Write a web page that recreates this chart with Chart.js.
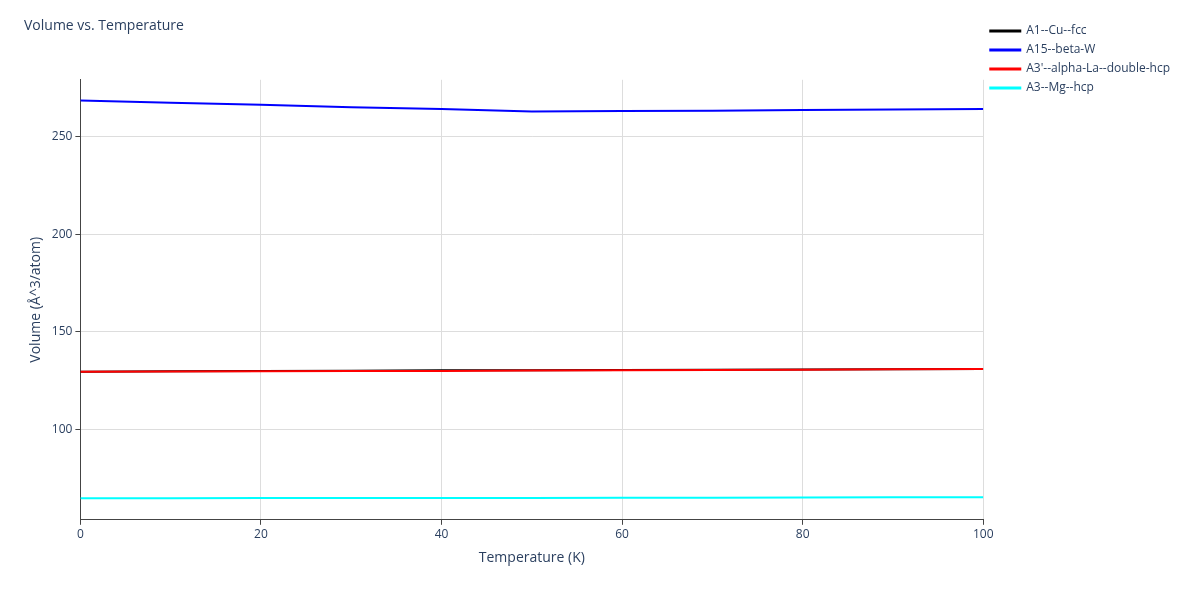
<!DOCTYPE html>
<html><head>
<script src="https://cdn.jsdelivr.net/npm/chart.js@4"></script>
<style>body{margin:0;background:#fff}#wrap{width:1200px;height:600px;position:relative}</style>
</head><body><div id="wrap"><canvas id="c"></canvas></div>
<script>
const temps = [0, 10, 20, 30, 40, 50, 60, 70, 80, 90, 100];
const cuFcc = [129.6, 129.8, 129.9, 130.1, 130.3, 130.4, 130.5, 130.6, 130.7, 130.9, 131.0];
const betaW = [268.4, 267.3, 266.2, 265.0, 264.0, 262.8, 263.0, 263.2, 263.5, 263.8, 264.0];
const alphaLa = [129.6, 129.7, 129.8, 129.9, 130.0, 130.2, 130.3, 130.5, 130.6, 130.8, 131.0];
const mgHcp = [64.8, 64.8, 64.9, 64.9, 65.0, 65.0, 65.1, 65.1, 65.2, 65.3, 65.4];

const font = {family: '"Open Sans", sans-serif', size: 12};
const mk = (label, d, c, order) => ({label, order, data: temps.map((t, i) => ({x: t, y: d[i]})), borderColor: c, backgroundColor: c, borderWidth: 2, pointRadius: 0});

new Chart(document.getElementById('c'), {
    type: 'line',
    data: {datasets: [
        mk('A1--Cu--fcc', cuFcc, '#000000', 3),
        mk('A15--beta-W', betaW, '#0000ff', 2),
        mk("A3'--alpha-La--double-hcp", alphaLa, '#ff0000', 1),
        mk('A3--Mg--hcp', mgHcp, '#00ffff', 0)
    ]},
    options: {
        responsive: true, maintainAspectRatio: false, animation: false,
        layout: {padding: {left: 24, top: 18, bottom: 30, right: 20}},
        scales: {
            x: {type: 'linear', min: 0, max: 100,
                ticks: {stepSize: 20, color: '#2a3f5f', font},
                grid: {color: '#dddddd', drawTicks: true, tickColor: '#444', tickLength: 5},
                border: {color: '#444'},
                title: {display: true, text: 'Temperature (K)', color: '#2a3f5f', font: {...font, size: 14}}},
            y: {min: 53.8, max: 279,
                afterBuildTicks: a => { a.ticks = [100, 150, 200, 250].map(v => ({value: v})); },
                ticks: {color: '#2a3f5f', font},
                grid: {color: '#dddddd', tickColor: '#444', tickLength: 5},
                border: {color: '#444'},
                title: {display: true, text: 'Volume (Å^3/atom)', color: '#2a3f5f', font: {...font, size: 14}}}
        },
        plugins: {
            title: {display: true, text: 'Volume vs. Temperature', align: 'start', color: '#2a3f5f',
                font: {...font, size: 14, weight: 'normal'}, padding: {left: 50, bottom: 45}},
            legend: {position: 'right', align: 'start',
                labels: {color: '#2a3f5f', font, boxWidth: 30, boxHeight: 1, padding: 7,
                    sort: (a, b) => a.datasetIndex - b.datasetIndex}}
        }
    }
});
</script></body></html>
